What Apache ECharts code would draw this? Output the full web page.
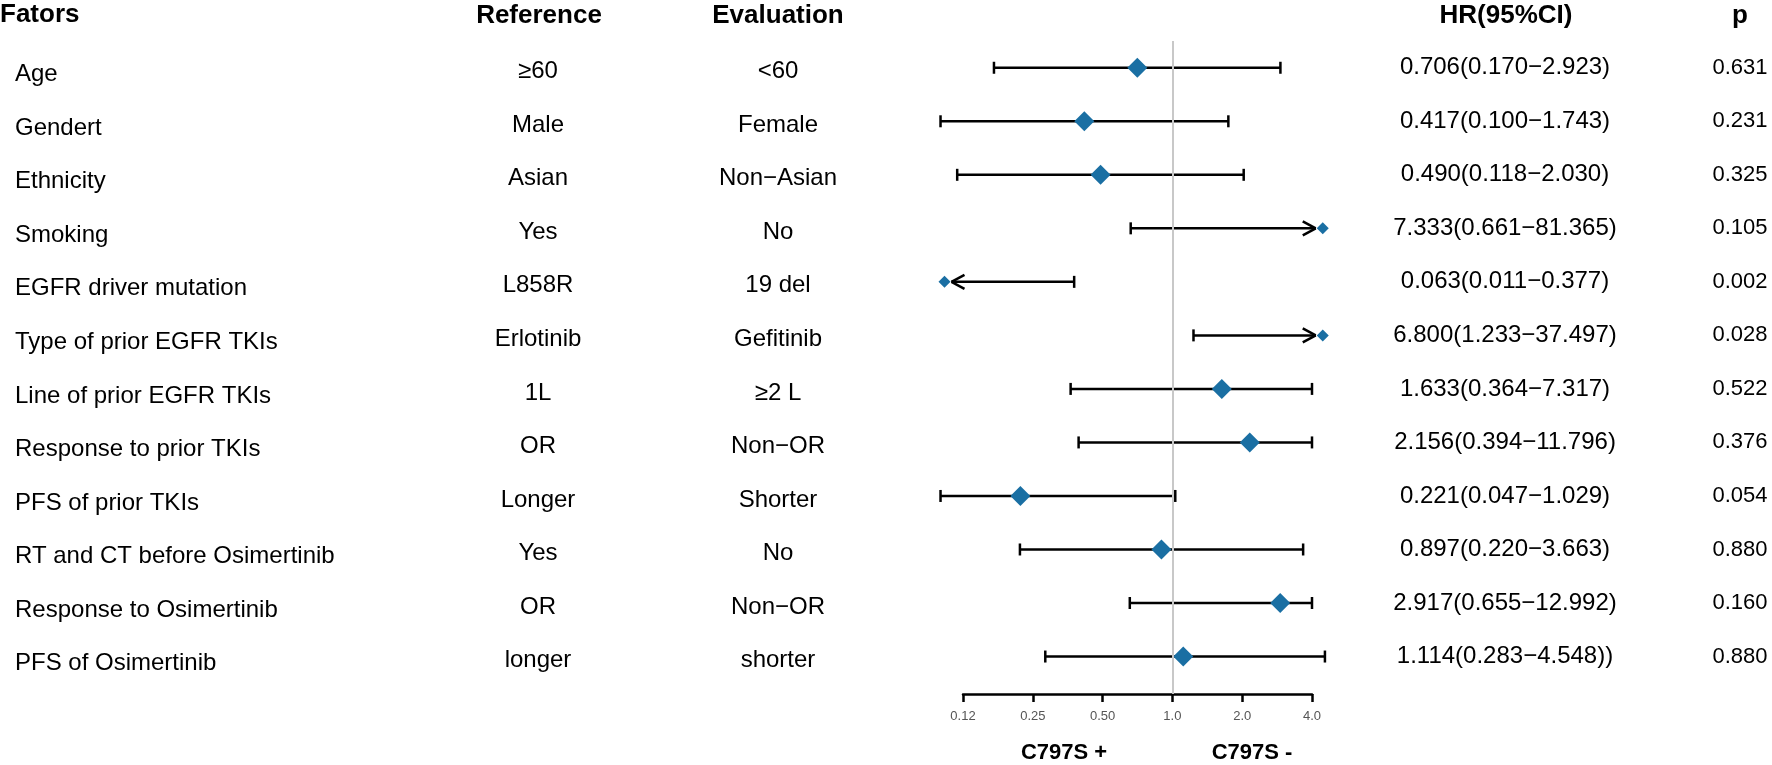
<!DOCTYPE html>
<html>
<head>
<meta charset="UTF-8">
<title>Forest plot - C797S</title>
<script src="https://cdn.jsdelivr.net/npm/echarts@6/dist/echarts.min.js"></script>
<style>
    html, body {
        margin: 0;
        padding: 0;
        width: 100%;
        height: 100%;
        background: #fff;
    }
    #forest {
        width: 1772px;
        height: 765px;
    }
</style>
</head>
<body>
<div id="forest"></div>
<script>
// data
var factors = ['Age', 'Gendert', 'Ethnicity', 'Smoking', 'EGFR driver mutation',
    'Type of prior EGFR TKIs', 'Line of prior EGFR TKIs', 'Response to prior TKIs',
    'PFS of prior TKIs', 'RT and CT before Osimertinib', 'Response to Osimertinib',
    'PFS of Osimertinib'];
var reference = ['≥60', 'Male', 'Asian', 'Yes', 'L858R', 'Erlotinib', '1L', 'OR',
    'Longer', 'Yes', 'OR', 'longer'];
var evaluation = ['<60', 'Female', 'Non−Asian', 'No', '19 del', 'Gefitinib', '≥2 L',
    'Non−OR', 'Shorter', 'No', 'Non−OR', 'shorter'];
var hr = [0.706, 0.417, 0.490, 7.333, 0.063, 6.800, 1.633, 2.156, 0.221, 0.897, 2.917, 1.114];
var lower = [0.170, 0.100, 0.118, 0.661, 0.011, 1.233, 0.364, 0.394, 0.047, 0.220, 0.655, 0.283];
var upper = [2.923, 1.743, 2.030, 81.365, 0.377, 37.497, 7.317, 11.796, 1.029, 3.663, 12.992, 4.548];
var hrLabels = ['0.706(0.170−2.923)', '0.417(0.100−1.743)', '0.490(0.118−2.030)',
    '7.333(0.661−81.365)', '0.063(0.011−0.377)', '6.800(1.233−37.497)',
    '1.633(0.364−7.317)', '2.156(0.394−11.796)', '0.221(0.047−1.029)',
    '0.897(0.220−3.663)', '2.917(0.655−12.992)', '1.114(0.283−4.548))'];
var pValues = ['0.631', '0.231', '0.325', '0.105', '0.002', '0.028', '0.522', '0.376',
    '0.054', '0.880', '0.160', '0.880'];
var tickValues = [0.125, 0.25, 0.5, 1, 2, 4];
var tickLabels = ['0.12', '0.25', '0.50', '1.0', '2.0', '4.0'];

// clipping used by the plot
var clipMin = 0.1;        // whiskers below this are cut
var clipMax = 4;          // whiskers above 5 are cut here
var offLow = 0.104;       // marker for HR below the scale
var offHigh = 4.45;       // marker for HR above the scale

var FONT = '"Liberation Sans", Arial, Helvetica, sans-serif';
var BLUE = '#1a6fa3';

function log2(v) { return Math.log(v) / Math.LN2; }

function diamond(cx, cy, r) {
    return {
        type: 'polygon',
        shape: { points: [[cx - r, cy], [cx, cy - r], [cx + r, cy], [cx, cy + r]] },
        style: { fill: BLUE }
    };
}

function seg(x1, y1, x2, y2) {
    return {
        type: 'line',
        shape: { x1: x1, y1: y1, x2: x2, y2: y2 },
        style: { stroke: '#000', lineWidth: 2.5 }
    };
}

function renderCI(params, api) {
    var i = api.value(1);
    var y = api.coord([0, i])[1];
    var px = function (v) { return api.coord([log2(v), i])[0]; };
    var kids = [];
    var h = hr[i];
    if (h < clipMin) {
        // off the left end: arrow plus small marker
        var dx = px(offLow), tip = dx + 7, r = px(upper[i]);
        kids.push(seg(tip, y, r, y));
        kids.push(seg(r, y - 6, r, y + 6));
        kids.push(seg(tip, y, tip + 13, y - 7));
        kids.push(seg(tip, y, tip + 13, y + 7));
        kids.push(diamond(dx, y, 6));
    } else if (h > 5) {
        // off the right end
        var dx2 = px(offHigh), tip2 = dx2 - 7, l = px(Math.max(lower[i], clipMin));
        kids.push(seg(l, y, tip2, y));
        kids.push(seg(l, y - 6, l, y + 6));
        kids.push(seg(tip2, y, tip2 - 13, y - 7));
        kids.push(seg(tip2, y, tip2 - 13, y + 7));
        kids.push(diamond(dx2, y, 6));
    } else {
        var x1 = px(Math.max(lower[i], clipMin));
        var x2 = px(upper[i] > 5 ? clipMax : upper[i]);
        kids.push(seg(x1, y, x2, y));
        kids.push(seg(x1, y - 6, x1, y + 6));
        kids.push(seg(x2, y - 6, x2, y + 6));
        kids.push(diamond(px(h), y, 10));
    }
    return { type: 'group', children: kids };
}

function txt(text, x, y, align, size, weight) {
    return {
        type: 'text',
        x: x,
        y: y,
        style: {
            text: text,
            fill: '#000',
            font: (weight || 'normal') + ' ' + size + 'px ' + FONT,
            align: align,
            verticalAlign: 'middle'
        }
    };
}

function renderTable(params, api) {
    var i = api.value(1);
    var y = api.coord([0, i])[1];
    return {
        type: 'group',
        children: [
            txt(factors[i], 15, y + 7, 'left', 24),
            txt(reference[i], 538, y + 4, 'center', 24),
            txt(evaluation[i], 778, y + 4, 'center', 24),
            txt(hrLabels[i], 1505, y, 'center', 24),
            txt(pValues[i], 1740, y, 'center', 22)
        ]
    };
}

var rows = hr.map(function (v, i) { return [log2(v), i]; });

var chart = echarts.init(document.getElementById('forest'));
var option = {
    backgroundColor: '#fff',
    animation: false,
    grid: { left: 963, width: 349, top: 41, height: 653 },
    xAxis: {
        type: 'value',
        min: -3,
        max: 2,
        interval: 1,
        splitLine: { show: false },
        axisLine: { show: true, onZero: false, lineStyle: { color: '#000', width: 2.5 } },
        axisTick: { show: true, length: 8, lineStyle: { color: '#000', width: 2.5 } },
        axisLabel: {
            margin: 16,
            color: '#555',
            fontSize: 13,
            fontFamily: FONT,
            showMinLabel: true,
            showMaxLabel: true,
            formatter: function (v) { return tickLabels[Math.round(v) + 3]; }
        }
    },
    yAxis: { type: 'value', inverse: true, min: -0.5, max: 11.7, show: false },
    graphic: [
        txt('Fators', 0, 15, 'left', 26, 'bold'),
        txt('Reference', 539, 16, 'center', 26, 'bold'),
        txt('Evaluation', 778, 16, 'center', 26, 'bold'),
        txt('HR(95%CI)', 1506, 16, 'center', 26, 'bold'),
        txt('p', 1740, 16, 'center', 26, 'bold'),
        txt('C797S +', 1064, 753, 'center', 22, 'bold'),
        txt('C797S -', 1252, 753, 'center', 22, 'bold')
    ],
    series: [
        {
            type: 'custom',
            name: 'table',
            silent: true,
            renderItem: renderTable,
            encode: { x: 0, y: 1 },
            data: rows
        },
        {
            type: 'custom',
            name: 'HR',
            renderItem: renderCI,
            encode: { x: 0, y: 1 },
            data: rows,
            z: 3,
            markLine: {
                silent: true,
                symbol: 'none',
                label: { show: false },
                lineStyle: { color: '#c8c8c8', width: 2, type: 'solid' },
                data: [{ xAxis: log2(tickValues[3]) }]
            }
        }
    ]
};
chart.setOption(option);
</script>
</body>
</html>
